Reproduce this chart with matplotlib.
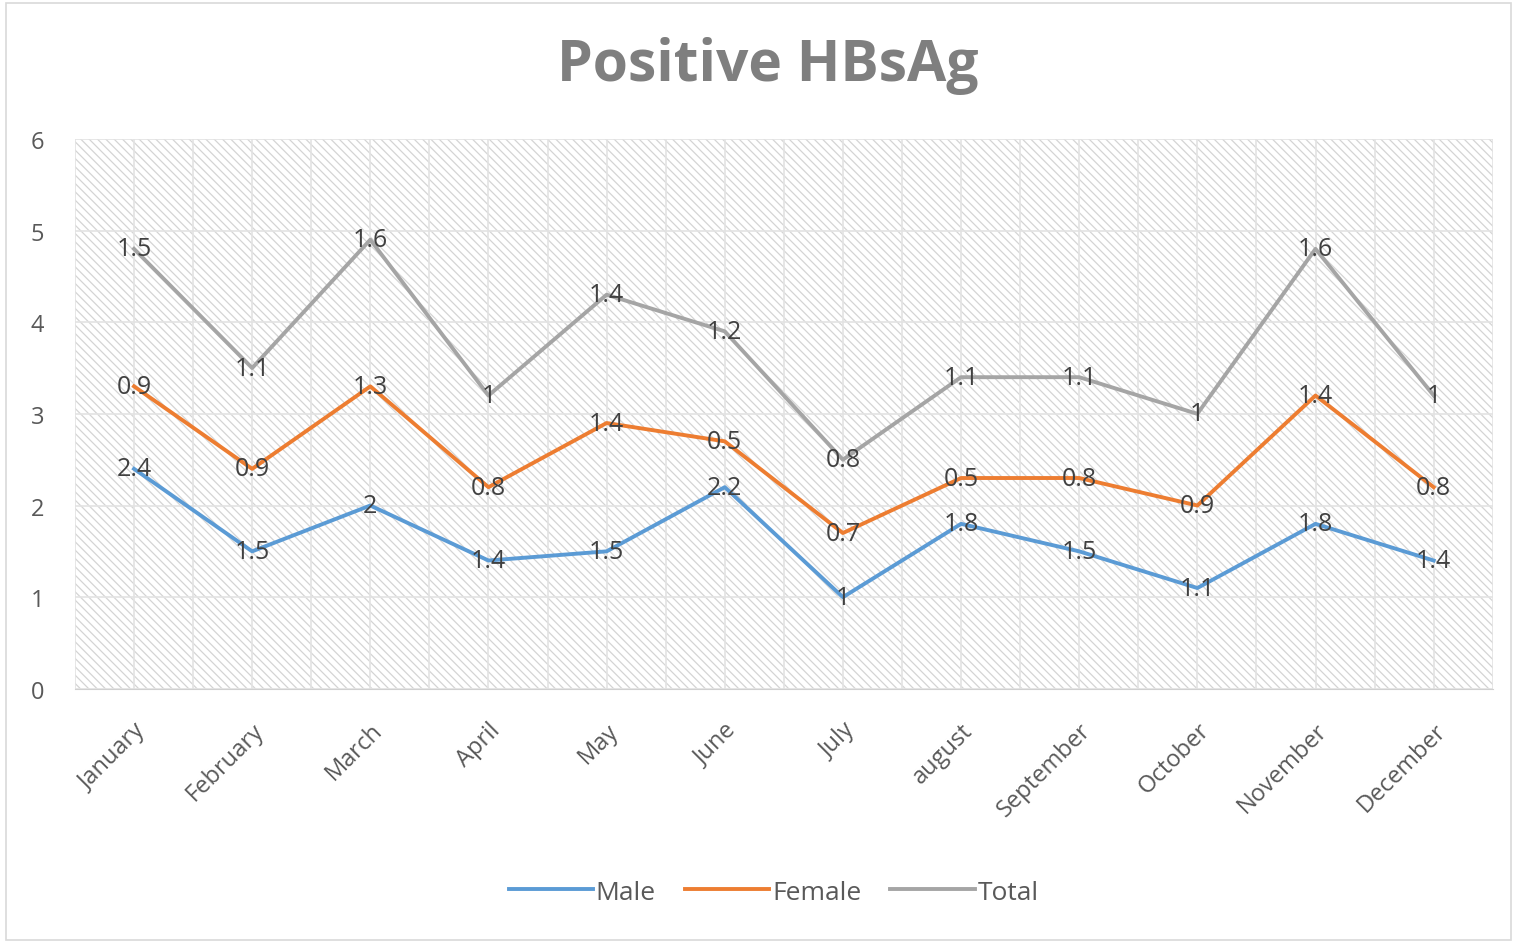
import matplotlib.pyplot as plt
import numpy as np
from matplotlib.patches import Rectangle

months = ["January", "February", "March", "April", "May", "June", "July",
          "august", "September", "October", "November", "December"]
male = [2.4, 1.5, 2, 1.4, 1.5, 2.2, 1, 1.8, 1.5, 1.1, 1.8, 1.4]
female = [0.9, 0.9, 1.3, 0.8, 1.4, 0.5, 0.7, 0.5, 0.8, 0.9, 1.4, 0.8]
total = [1.5, 1.1, 1.6, 1, 1.4, 1.2, 0.8, 1.1, 1.1, 1, 1.6, 1]

plt.rcParams['font.family'] = ['Open Sans', 'DejaVu Sans']
plt.rcParams['hatch.linewidth'] = 0.9
plt.rcParams['hatch.color'] = '#d4d4d4'

fig = plt.figure(figsize=(15.17, 9.45), dpi=100)
fig.patches.append(Rectangle((0.004, 0.004), 0.992, 0.992, transform=fig.transFigure,
                             fill=False, edgecolor='#d9d9d9', lw=1.2))
ax = fig.add_axes([0.0494, 0.270, 0.9346, 0.582])

x = np.arange(len(months))
# stacked line chart, like excel
s1 = np.array(male)
s2 = s1 + np.array(female)
s3 = s2 + np.array(total)

ax.add_patch(Rectangle((0, 0), 1, 1, transform=ax.transAxes, facecolor='white',
                       edgecolor='#d4d4d4', hatch='\\\\\\\\', lw=0, zorder=0))

ax.plot(x, s1, color='#5B9BD5', lw=2.8, label='Male', zorder=3)
ax.plot(x, s2, color='#ED7D31', lw=2.8, label='Female', zorder=3)
ax.plot(x, s3, color='#A5A5A5', lw=2.8, label='Total', zorder=3)

for vals, ys in [(male, s1), (female, s2), (total, s3)]:
    for i, v in enumerate(vals):
        ax.text(x[i], ys[i], str(v), ha='center', va='center', fontsize=18,
                color='#404040', zorder=4)

ax.set_xlim(-0.5, 11.5)
ax.set_ylim(0, 6)
ax.set_yticks(range(7))
ax.set_xticks(x)
ax.set_xticks(np.arange(-0.5, 12, 1), minor=True)
ax.set_xticklabels(months, rotation=45, ha='right', rotation_mode='anchor',
                   fontsize=17, color='#595959')
ax.tick_params(axis='y', labelsize=17, labelcolor='#595959', length=0, pad=22)
ax.tick_params(axis='x', which='both', length=0, pad=21)
ax.grid(True, which='both', color='#e3e3e3', lw=1.2, zorder=1)
ax.set_axisbelow(True)
for sp in ['top', 'right', 'left']:
    ax.spines[sp].set_visible(False)
ax.spines['bottom'].set_color('#d0d0d0')

fig.text(0.506, 0.93, 'Positive HBsAg', ha='center', va='center', fontsize=41,
         fontweight='bold', color='#7f7f7f')

fig.legend(loc='center', bbox_to_anchor=(0.51, 0.055), ncol=3, frameon=False,
           fontsize=19, labelcolor='#595959', handlelength=3.2, handletextpad=0.1,
           columnspacing=1.1)

fig.savefig('out.png', dpi=100)
